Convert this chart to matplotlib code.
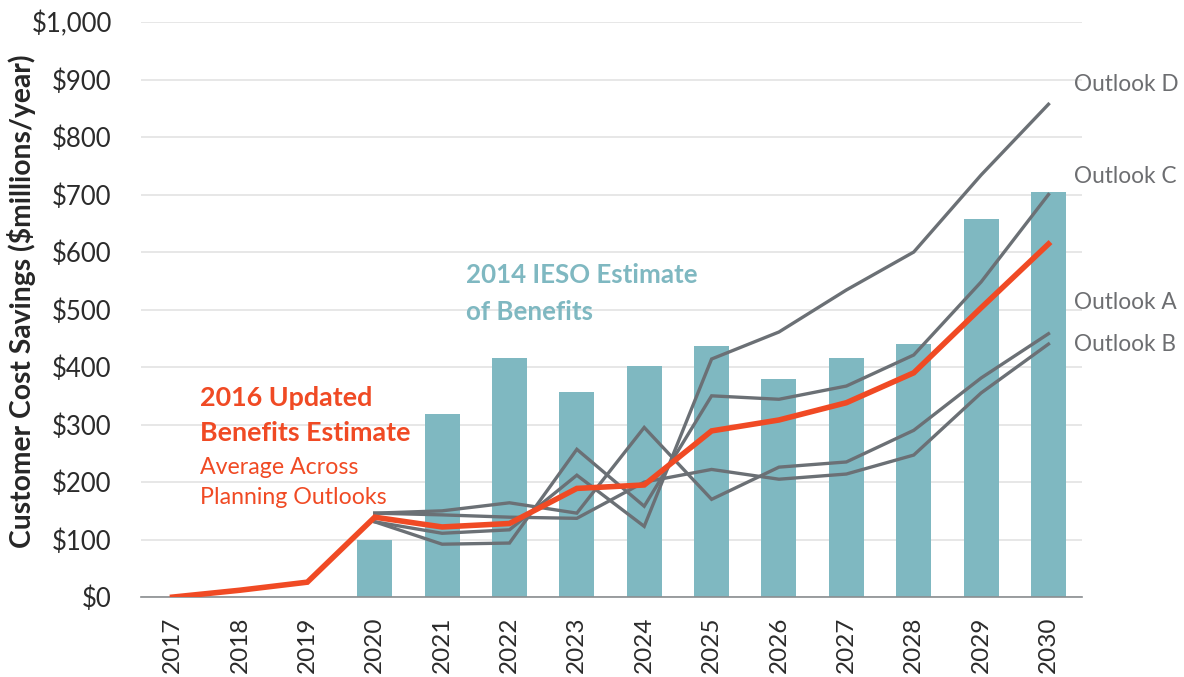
import matplotlib.pyplot as plt
import numpy as np

plt.rcParams['font.family'] = ['Lato', 'DejaVu Sans']

# --- data ($ millions / year) --- #
years = [2017, 2018, 2019, 2020, 2021, 2022, 2023, 2024, 2025, 2026,
         2027, 2028, 2029, 2030]

# 2014 IESO estimate (bars), only from 2020 on
ieso_years = [2020, 2021, 2022, 2023, 2024, 2025, 2026, 2027, 2028, 2029, 2030]
ieso_values = [100, 318, 416, 357, 402, 437, 380, 416, 440, 657, 704]

# 2016 updated estimate, average across outlooks
average = [0, 12, 26, 139, 122, 128, 189, 195, 289, 308, 338, 390, 503, 614]

# planning outlooks, start in 2020
outlook_years = [2020, 2021, 2022, 2023, 2024, 2025, 2026, 2027, 2028, 2029, 2030]
outlook_a = [146, 150, 164, 146, 295, 170, 226, 235, 290, 381, 458]
outlook_b = [146, 143, 139, 137, 200, 222, 205, 214, 247, 355, 440]
outlook_c = [131, 92, 94, 257, 158, 350, 344, 367, 421, 548, 700]
outlook_d = [131, 111, 117, 212, 123, 414, 461, 534, 600, 734, 857]

outlook_names = ['Outlook D', 'Outlook C', 'Outlook A', 'Outlook B']
label_y = [892, 732, 513, 440]

y_ticks = list(range(0, 1001, 100))

# colours
teal = '#7fb8c1'
red = '#f04a24'
grey = '#6b7075'
text_grey = '#6d6e71'

fig = plt.figure(figsize=(11.84, 6.77), dpi=100)
ax = fig.add_axes([0.119, 0.118, 0.795, 0.8495])

pos = {yr: i for i, yr in enumerate(years)}
bar_x = [pos[yr] for yr in ieso_years]
out_x = [pos[yr] for yr in outlook_years]

ax.bar(bar_x, ieso_values, width=0.52, color=teal, zorder=2)

for series in [outlook_a, outlook_b, outlook_c, outlook_d]:
    ax.plot(out_x, series, color=grey, lw=2.4, zorder=3,
            solid_joinstyle='miter')
ax.plot(range(len(years)), average, color=red, lw=4, zorder=4,
        solid_joinstyle='miter')

ax.set_xlim(-0.47, 13.5)
ax.set_ylim(0, 1000)
ax.set_yticks(y_ticks)
ax.set_yticklabels([f'${v:,}' for v in y_ticks], fontsize=18.5,
                   color='#2b2b2b')
ax.set_xticks(range(len(years)))
ax.set_xticklabels([str(y) for y in years], rotation=90, fontsize=17.5,
                   color='#2b2b2b')
ax.tick_params(axis='y', length=0, pad=21)
ax.tick_params(axis='x', length=0, pad=14)

ax.yaxis.grid(True, color='#e3e3e3', lw=1.2, zorder=0)
ax.set_axisbelow(True)
for side in ['top', 'right', 'left']:
    ax.spines[side].set_visible(False)
ax.spines['bottom'].set_color('#8a8d90')
ax.spines['bottom'].set_linewidth(1.2)

ax.set_ylabel('Customer Cost Savings ($millions/year)', fontsize=20.3,
              fontweight='bold', color='#262626')
ax.yaxis.set_label_coords(-0.1116, 0.515)

# annotations
ax.text(4.35, 560, '2014 IESO Estimate', color=teal, fontsize=18.6,
        fontweight='bold', va='center')
ax.text(4.35, 496, 'of Benefits', color=teal, fontsize=18.6,
        fontweight='bold', va='center')

ax.text(0.4, 346, '2016 Updated', color=red, fontsize=19.4,
        fontweight='bold', va='center')
ax.text(0.4, 285, 'Benefits Estimate', color=red, fontsize=19.4,
        fontweight='bold', va='center')
ax.text(0.4, 226, 'Average Across', color=red, fontsize=16.7, va='center')
ax.text(0.4, 174, 'Planning Outlooks', color=red, fontsize=16.7,
        va='center')

for name, yv in zip(outlook_names, label_y):
    ax.text(13.38, yv, name, color=text_grey, fontsize=16.3, va='center',
            clip_on=False)

fig.savefig('out.png', dpi=100)
